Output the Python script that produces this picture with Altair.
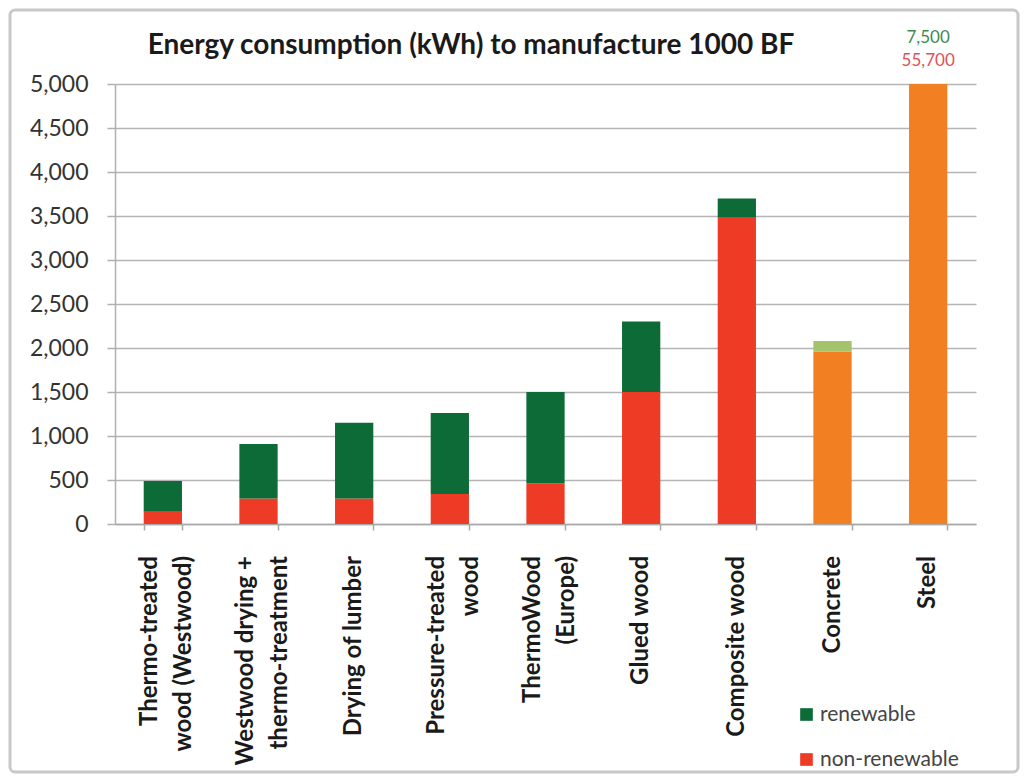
import altair as alt
import pandas as pd

# ---- data ----
title_text = "Energy consumption (kWh) to manufacture 1000 BF"
categories = [
    "Thermo-treated|wood (Westwood)",
    "Westwood drying +|thermo-treatment",
    "Drying of lumber",
    "Pressure-treated|wood",
    "ThermoWood|(Europe)",
    "Glued wood",
    "Composite wood",
    "Concrete",
    "Steel",
]
material = ["wood"] * 7 + ["other"] * 2
non_renewable = [140, 290, 290, 340, 460, 1500, 3480, 1960, 55700]
renewable = [350, 620, 860, 920, 1040, 800, 220, 120, 7500]
y_ticks = list(range(0, 5001, 500))

parts = ["renewable", "non-renewable"]
color_keys = ["renewable", "non-renewable", "renewable (other)", "non-renewable (other)"]
color_range = ["#0d6b37", "#ee3b25", "#a3c46c", "#f27f22"]

rows = []
for c, m, nr, r in zip(categories, material, non_renewable, renewable):
    suffix = "" if m == "wood" else " (other)"
    rows.append({"category": c, "part": "non-renewable", "key": "non-renewable" + suffix, "ord": 0, "value": nr})
    rows.append({"category": c, "part": "renewable", "key": "renewable" + suffix, "ord": 1, "value": r})
df = pd.DataFrame(rows)
label_df = pd.DataFrame({"category": categories})

FONT = "Lato"
W, H = 861, 440
LH = 34
PAD_INNER = 0.6
HALF_BAR = W / len(categories) * (1 - PAD_INNER) / 2

x_enc = alt.X(
    "category:N",
    sort=categories,
    title=None,
    scale=alt.Scale(paddingInner=PAD_INNER, paddingOuter=PAD_INNER / 2),
    axis=alt.Axis(
        labels=False,
        tickBand="extent",
        tickSize=6,
        tickColor="#a8a8a8",
        tickWidth=1.5,
        domainColor="#a8a8a8",
        domainWidth=1.5,
        grid=False,
    ),
)

base = alt.Chart(df).encode(x=x_enc)

bars = base.mark_bar(clip=True).encode(
    y=alt.Y(
        "value:Q",
        stack="zero",
        title=None,
        scale=alt.Scale(domain=[0, 5000], nice=False),
        axis=alt.Axis(
            values=y_ticks,
            format=",d",
            labelFont=FONT,
            labelFontSize=23,
            labelColor="#333333",
            labelPadding=19,
            tickSize=8,
            tickColor="#b0b0b0",
            tickWidth=1.5,
            domainColor="#b0b0b0",
            domainWidth=1.5,
            gridColor="#b5b5b5",
            gridWidth=1.5,
        ),
    ),
    color=alt.Color(
        "key:N",
        scale=alt.Scale(domain=color_keys, range=color_range),
        legend=alt.Legend(
            values=parts,
            title=None,
            orient="none",
            legendX=681,
            legendY=620,
            symbolType="square",
            symbolSize=160,
            symbolStrokeWidth=0,
            labelFont=FONT,
            labelFontSize=21,
            labelColor="#444444",
            labelOffset=3,
            rowPadding=23,
            padding=0,
        ),
    ),
    order=alt.Order("ord:Q"),
)

# category labels below the axis, rotated, multi-line labels centred on their bar
xlabels = alt.Chart(label_df).transform_calculate(
    lines="split(datum.category, '|')"
).transform_calculate(
    shift=f"{HALF_BAR} - (length(datum.lines) - 1) * {LH / 2 - 4}"
).mark_text(
    font=FONT, fontSize=24, fontWeight="bold", color="#1a1a1a",
    angle=270, align="right", baseline="middle", lineHeight=LH,
).encode(
    x=alt.X("category:N", sort=categories),
    xOffset=alt.XOffset("shift:Q", scale=None),
    y=alt.value(H + 32),
    text="lines:N",
)

ann_r = base.transform_filter(
    "datum.category == 'Steel' && datum.part == 'renewable'"
).mark_text(font=FONT, fontSize=17, color="#3f8a4f", baseline="alphabetic").encode(
    y=alt.value(-41), text=alt.Text("value:Q", format=",")
)
ann_nr = base.transform_filter(
    "datum.category == 'Steel' && datum.part == 'non-renewable'"
).mark_text(font=FONT, fontSize=17, color="#e2505a", baseline="alphabetic").encode(
    y=alt.value(-18), text=alt.Text("value:Q", format=",")
)

title = alt.Chart(pd.DataFrame({"t": [title_text]})).mark_text(
    font=FONT, fontSize=28, fontWeight="bold", color="#1a1a1a", baseline="alphabetic", align="center"
).encode(x=alt.value(356), y=alt.value(-30), text="t:N")

border = alt.Chart(pd.DataFrame({"k": [0]})).mark_rect(
    fillOpacity=0, stroke="#c8c8c8", strokeWidth=3, cornerRadius=5
).encode(
    x=alt.value(-105), x2=alt.value(W + 42), y=alt.value(-74), y2=alt.value(H + 248)
)

chart = (
    alt.layer(border, bars, xlabels, ann_r, ann_nr, title)
    .properties(
        width=W,
        height=H,
        autosize=alt.AutoSizeParams(type="none"),
        padding={"left": 107, "top": 76, "right": 44, "bottom": 250},
        background="white",
    )
    .configure_view(stroke=None)
)

chart.save("out.html", embed_options={"renderer": "svg", "actions": False})
